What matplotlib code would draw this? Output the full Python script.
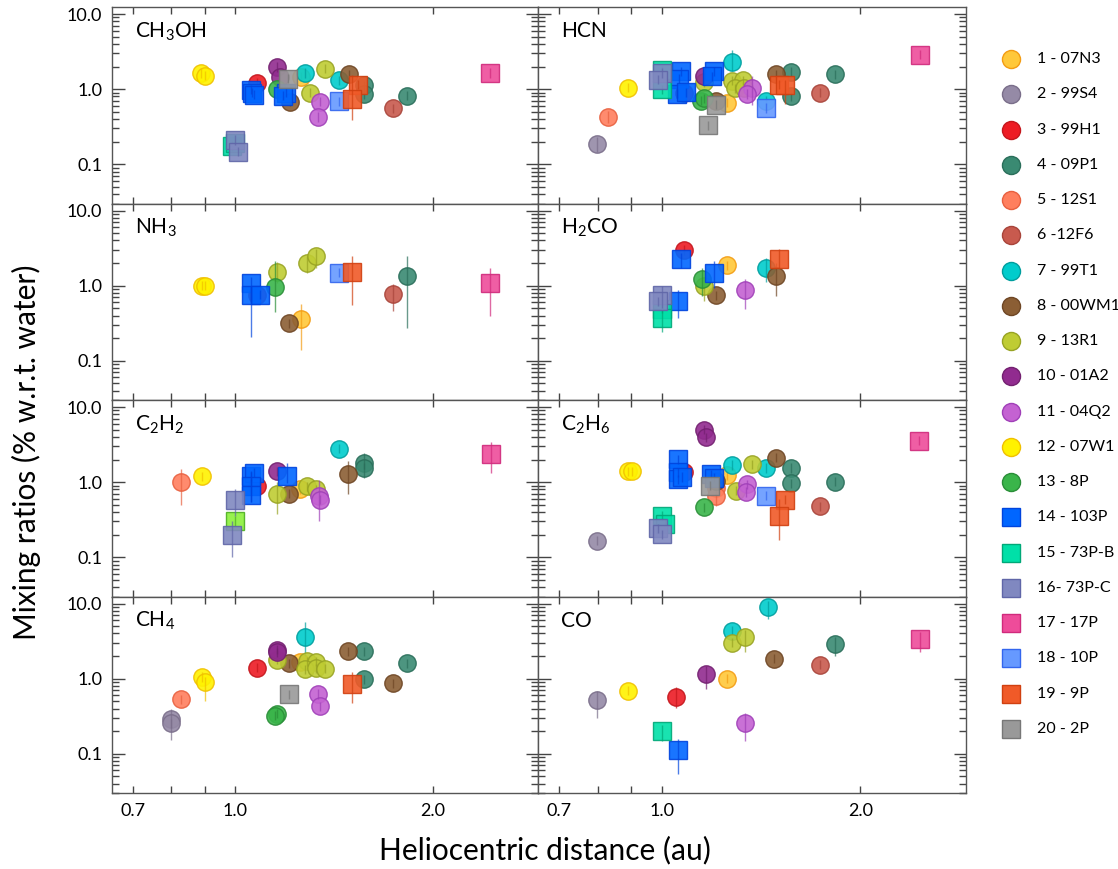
import matplotlib
matplotlib.use("Agg")
import matplotlib.pyplot as plt
from matplotlib.lines import Line2D
from matplotlib.ticker import LogLocator, NullFormatter, FixedLocator, FixedFormatter, NullLocator, FuncFormatter

plt.rcParams['font.family'] = ['Lato', 'DejaVu Sans']
plt.rcParams['mathtext.fontset'] = 'custom'
plt.rcParams['mathtext.rm'] = 'Lato'
plt.rcParams['mathtext.it'] = 'Lato:italic'
plt.rcParams['mathtext.bf'] = 'Lato:bold'

# ---- comets -------------------------------------------------------------
legend_labels = ['1 - 07N3', '2 - 99S4', '3 - 99H1', '4 - 09P1', '5 - 12S1',
                 '6 -12F6', '7 - 99T1', '8 - 00WM1', '9 - 13R1', '10 - 01A2',
                 '11 - 04Q2', '12 - 07W1', '13 - 8P', '14 - 103P', '15 - 73P-B',
                 '16- 73P-C', '17 - 17P', '18 - 10P', '19 - 9P', '20 - 2P']
face_colors = ['#FFC83A', '#958AA6', '#ED1C24', '#3A8A72', '#FF7F5E',
               '#C85A4E', '#00CCCC', '#8B5E34', '#BFCC33', '#912B8F',
               '#C462D2', '#FFF200', '#3AB54A', '#0066FF', '#00E0A8',
               '#8088C0', '#EE4C9A', '#6699FF', '#F05A28', '#999999']
edge_colors = ['#F39C12', '#7A6E8A', '#C4161C', '#2A6E5A', '#E8603F',
               '#A8443A', '#009E9E', '#6E4624', '#98A323', '#732070',
               '#A040B8', '#F0C000', '#2A8E38', '#0044DD', '#00A878',
               '#6066A8', '#D02A7C', '#3366EE', '#D04010', '#777777']
marker_shapes = ['o'] * 13 + ['s'] * 7

# ---- abundances: (comet, r_h [au], ratio [%], optional low, high[, face]) ---
CH3OH = [
    (12, 0.889, 1.64), (12, 0.899, 1.51),
    (3, 1.079, 1.22),
    (14, 1.057, 0.98), (14, 1.063, 0.90), (14, 1.070, 0.84),
    (14, 1.197, 0.90), (14, 1.185, 0.82),
    (10, 1.160, 1.97), (10, 1.169, 1.46),
    (13, 1.160, 1.00),
    (20, 1.206, 1.38),
    (8, 1.211, 0.68), (8, 1.491, 1.57),
    (1, 1.259, 1.46),
    (7, 1.280, 1.64), (7, 1.439, 1.31),
    (9, 1.369, 1.86), (9, 1.299, 0.90),
    (11, 1.348, 0.68), (11, 1.338, 0.425),
    (18, 1.439, 0.69),
    (19, 1.538, 1.14), (19, 1.508, 0.73, 0.39, 1.56),
    (4, 1.569, 1.13), (4, 1.569, 0.857), (4, 1.828, 0.82),
    (6, 1.739, 0.556),
    (17, 2.447, 1.64),
    (15, 0.991, 0.175), (15, 1.001, 0.194),
    (16, 1.000, 0.21), (16, 1.009, 0.146),
]

HCN = [
    (2, 0.799, 0.188, 0.146, 0.23),
    (5, 0.830, 0.425, 0.35, 0.51),
    (12, 0.890, 1.04),
    (15, 1.000, 1.78), (15, 1.000, 1.00),
    (16, 1.000, 1.64), (16, 0.989, 1.33),
    (14, 1.070, 1.73), (14, 1.061, 1.38), (14, 1.055, 0.87), (14, 1.089, 0.91),
    (14, 1.200, 1.73), (14, 1.193, 1.48),
    (3, 1.080, 0.90),
    (10, 1.160, 1.48),
    (9, 1.160, 1.23), (9, 1.279, 1.29), (9, 1.328, 1.31), (9, 1.290, 1.03), (9, 1.334, 1.03),
    (13, 1.149, 0.70), (13, 1.158, 0.76),
    (8, 1.208, 0.70), (8, 1.489, 1.57),
    (20, 1.208, 0.62), (20, 1.177, 0.33),
    (1, 1.258, 0.66),
    (7, 1.279, 2.28, 1.75, 3.3), (7, 1.437, 0.70),
    (11, 1.372, 1.05, 0.62, 1.48), (11, 1.349, 0.86),
    (18, 1.437, 0.56),
    (19, 1.506, 1.14), (19, 1.538, 1.12, 0.63, 1.33),
    (4, 1.568, 1.71), (4, 1.568, 0.80), (4, 1.828, 1.57),
    (6, 1.737, 0.90),
    (17, 2.459, 2.89),
]

NH3 = [
    (12, 0.890, 1.00), (12, 0.900, 1.00),
    (14, 1.059, 1.09, 0.6, 1.3), (14, 1.059, 0.76, 0.21, 0.95), (14, 1.090, 0.76),
    (3, 1.079, 0.74, 0.6, 0.9),
    (13, 1.149, 0.95, 0.45, 2.16),
    (9, 1.158, 1.53, 1.09, 2.06), (9, 1.288, 2.01, 1.48, 2.48), (9, 1.329, 2.48, 1.72, 3.04),
    (8, 1.210, 0.316),
    (1, 1.258, 0.357, 0.138, 0.567),
    (18, 1.439, 1.48),
    (19, 1.508, 1.51, 0.556, 2.47),
    (6, 1.739, 0.765, 0.46, 1.06),
    (4, 1.828, 1.36, 0.276, 2.47),
    (17, 2.447, 1.09, 0.395, 1.73),
]

H2CO = [
    (3, 1.080, 2.98),
    (14, 1.070, 2.23, 1.7, 2.7), (14, 1.059, 0.62, 0.37, 0.88), (14, 1.200, 1.48, 0.93, 2.12),
    (15, 1.000, 0.49), (15, 1.000, 0.368, 0.244, 0.5),
    (16, 1.000, 0.74, 0.5, 0.98), (16, 0.989, 0.62),
    (13, 1.152, 1.24, 0.72, 1.73),
    (9, 1.160, 1.00, 0.62, 1.2),
    (8, 1.208, 0.74), (8, 1.489, 1.36, 0.73, 2.0),
    (1, 1.258, 1.87),
    (11, 1.339, 0.875, 0.49, 1.24),
    (7, 1.437, 1.74, 1.11, 2.35),
    (19, 1.508, 2.23, 1.73, 3.1),
]

C2H2 = [
    (5, 0.829, 1.00, 0.50, 1.51),
    (12, 0.890, 1.20),
    (16, 1.000, 0.585, 0.35, 0.8), (16, 0.990, 0.198, 0.10, 0.30),
    (15, 1.000, 0.30, 0.26, 0.35, '#8CF03C'),
    (14, 1.059, 1.20), (14, 1.067, 1.33), (14, 1.059, 0.88, 0.55, 1.4),
    (14, 1.059, 0.68, 0.55, 1.1), (14, 1.200, 1.20, 0.98, 1.81),
    (3, 1.079, 0.90),
    (10, 1.160, 1.40),
    (9, 1.158, 0.70, 0.376, 1.0), (9, 1.288, 0.88), (9, 1.329, 0.80),
    (8, 1.210, 0.70), (8, 1.488, 1.29, 0.70, 1.91),
    (1, 1.255, 0.80),
    (11, 1.340, 0.66, 0.30, 1.08), (11, 1.346, 0.585),
    (7, 1.439, 2.80),
    (4, 1.569, 1.82, 1.5, 2.47), (4, 1.569, 1.53, 1.14, 1.8),
    (17, 2.455, 2.40, 1.33, 3.37),
]

C2H6 = [
    (2, 0.799, 0.166),
    (12, 0.891, 1.40), (12, 0.901, 1.40),
    (14, 1.059, 2.01), (14, 1.059, 1.36), (14, 1.059, 1.09), (14, 1.074, 1.17),
    (14, 1.190, 1.27), (14, 1.200, 1.14),
    (3, 1.080, 1.38),
    (10, 1.158, 4.98), (10, 1.169, 3.93),
    (15, 1.000, 0.357), (15, 1.011, 0.279),
    (16, 0.989, 0.244), (16, 1.000, 0.202),
    (13, 1.158, 0.462),
    (20, 1.182, 0.90),
    (8, 1.208, 1.03), (8, 1.489, 2.10),
    (5, 1.208, 0.84), (5, 1.208, 0.66, 0.476, 0.8),
    (1, 1.258, 1.23),
    (7, 1.277, 1.69), (7, 1.437, 1.54),
    (9, 1.369, 1.73), (9, 1.297, 0.773),
    (11, 1.349, 0.93), (11, 1.340, 0.74),
    (18, 1.437, 0.66),
    (19, 1.538, 0.585), (19, 1.508, 0.35, 0.17, 0.6),
    (4, 1.568, 1.54), (4, 1.568, 0.96), (4, 1.830, 1.01),
    (6, 1.739, 0.476),
    (17, 2.450, 3.55),
]

CH4 = [
    (2, 0.799, 0.29, 0.153, 0.40), (2, 0.799, 0.256),
    (5, 0.829, 0.528),
    (12, 0.890, 1.05), (12, 0.901, 0.90, 0.50, 1.05),
    (3, 1.079, 1.40),
    (10, 1.158, 2.43), (10, 1.158, 2.23),
    (9, 1.158, 1.78), (9, 1.288, 1.71), (9, 1.329, 1.69), (9, 1.279, 1.33),
    (9, 1.329, 1.38), (9, 1.370, 1.36),
    (8, 1.210, 1.61), (8, 1.487, 2.30), (8, 1.739, 0.866),
    (1, 1.257, 1.69),
    (7, 1.279, 3.55, 2.0, 5.66),
    (13, 1.160, 0.343), (13, 1.149, 0.322),
    (20, 1.210, 0.616),
    (11, 1.339, 0.623), (11, 1.348, 0.43),
    (19, 1.508, 0.848, 0.47, 1.23),
    (4, 1.569, 2.30), (4, 1.569, 0.98), (4, 1.828, 1.59),
]

CO = [
    (2, 0.799, 0.512, 0.30, 0.68),
    (12, 0.890, 0.69),
    (3, 1.050, 0.562, 0.41, 0.77),
    (10, 1.169, 1.155, 0.72, 1.48),
    (1, 1.258, 1.00),
    (15, 1.000, 0.202, 0.146, 0.24),
    (14, 1.060, 0.112, 0.054, 0.158),
    (11, 1.339, 0.259, 0.146, 0.35),
    (7, 1.279, 4.37), (7, 1.449, 8.97, 6.26, 10.8),
    (9, 1.279, 3.01), (9, 1.339, 3.55, 2.23, 4.45),
    (8, 1.480, 1.84),
    (6, 1.739, 1.53),
    (4, 1.828, 2.92, 2.0, 3.54),
    (17, 2.459, 3.34, 2.23, 4.15),
]

panels = [('CH$_3$OH', CH3OH), ('HCN', HCN),
          ('NH$_3$', NH3), ('H$_2$CO', H2CO),
          ('C$_2$H$_2$', C2H2), ('C$_2$H$_6$', C2H6),
          ('CH$_4$', CH4), ('CO', CO)]

x_ticks = [0.7, 0.8, 0.9, 1.0, 2.0]
x_tick_labels = ['0.7', '', '', '1.0', '2.0']

# ---- figure layout ------------------------------------------------------
W, H = 1118, 869
fig = plt.figure(figsize=(W / 100, H / 100), dpi=100)

col_left = [112, 538]
col_width = [426, 428]
row_top = 7
row_h = 196.5

spine_col = '#555555'
default_err = 1.15

for k, (name, pts) in enumerate(panels):
    r, c = divmod(k, 2)
    x0 = col_left[c] / W
    y0 = 1 - (row_top + (r + 1) * row_h) / H
    ax = fig.add_axes([x0, y0, col_width[c] / W, row_h / H])
    ax.set_xscale('log')
    ax.set_yscale('log')
    ax.set_xlim(0.65, 2.89)
    ax.set_ylim(0.03, 12.4)

    for p in sorted(pts, key=lambda q: q[0]):
        cid, rh, val = p[0], p[1], p[2]
        if len(p) > 3:
            lo, hi = p[3], p[4]
        else:
            lo, hi = val / default_err, val * default_err
        i = cid - 1
        fc = p[5] if len(p) > 5 else face_colors[i]
        ec = '#4CAF20' if len(p) > 5 else edge_colors[i]
        z = 3 + cid * 0.05
        ax.plot([rh], [val], marker=marker_shapes[i], ms=12.5, mfc=fc,
                mec=ec, mew=1.0, alpha=0.9, ls='none', zorder=z)
        ax.errorbar([rh], [val], yerr=[[val - lo], [hi - val]], fmt='none',
                    ecolor=ec, elinewidth=1.0, alpha=0.7, capsize=0,
                    zorder=z + 0.01)

    ax.text(0.054, 0.845, name, transform=ax.transAxes, fontsize=15,
            ha='left', va='baseline', color='black')

    # axes cosmetics
    for s in ax.spines.values():
        s.set_color(spine_col)
        s.set_linewidth(1.0)
    ax.xaxis.set_major_locator(FixedLocator(x_ticks))
    ax.xaxis.set_minor_locator(NullLocator())
    ax.xaxis.set_major_formatter(FixedFormatter(x_tick_labels))
    ax.yaxis.set_major_locator(LogLocator(base=10, numticks=10))
    ax.yaxis.set_minor_locator(LogLocator(base=10, subs=[2, 3, 4, 5, 6, 7, 8, 9], numticks=10))
    ax.yaxis.set_minor_formatter(NullFormatter())
    ax.yaxis.set_major_formatter(FuncFormatter(
        lambda v, pos: {0.1: '0.1', 1.0: '1.0', 10.0: '10.0'}.get(round(v, 3), '')))
    ax.tick_params(axis='x', which='both', direction='in', top=True, bottom=True,
                   length=5, width=1, color='#444444', labelsize=13, pad=7)
    ax.tick_params(axis='y', which='major', direction='in', left=True, right=True,
                   length=9, width=1, color='#444444', labelsize=13, pad=7)
    ax.tick_params(axis='y', which='minor', direction='in', left=True, right=True,
                   length=5, width=1, color='#444444')
    if c == 1:
        ax.tick_params(axis='y', which='both', labelleft=False)
    if r < 3:
        ax.tick_params(axis='x', which='both', labelbottom=False)

fig.text(0.024, 0.48, 'Mixing ratios (% w.r.t. water)', rotation=90,
         ha='center', va='center', fontsize=21.5)
fig.text(545 / W, 1 - 850 / H, 'Heliocentric distance (au)',
         ha='center', va='center', fontsize=21.5)

# ---- legend: one row per comet, stacked down the right margin ---------------
leg_marker_x = 1011 / W
leg_text_x = 1037 / W
leg_first_y = 59
leg_step = 35.26
for i, lab in enumerate(legend_labels):
    yy = 1 - (leg_first_y + i * leg_step) / H
    fig.add_artist(Line2D([leg_marker_x], [yy], transform=fig.transFigure,
                          marker=marker_shapes[i], ls='none', ms=13,
                          mfc=face_colors[i], mec=edge_colors[i], mew=1.0))
    fig.text(leg_text_x, yy, lab, ha='left', va='center', fontsize=11.5)

fig.savefig('out.png', dpi=100)
